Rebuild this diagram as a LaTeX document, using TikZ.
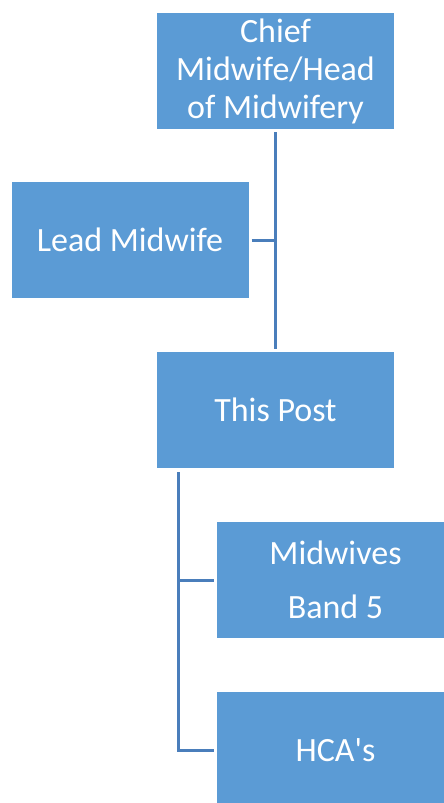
\documentclass[tikz,border=0pt]{standalone}
\usepackage{fontspec}
\setmainfont{Carlito}
\usepackage{xcolor}
\usetikzlibrary{calc}
\definecolor{boxblue}{HTML}{5B9BD5}
\definecolor{lineblue}{HTML}{4A7EBB}

\tikzset{
  postbox/.style={fill=boxblue, text=white, minimum width=237pt, minimum height=116pt,
    inner sep=0pt, align=center, font=\fontsize{34}{38}\selectfont},
  link/.style={draw=lineblue, line width=3pt}
}

\begin{document}
\begin{tikzpicture}[x=1pt,y=-1pt]
\useasboundingbox (0,0) rectangle (444,803);
\clip (0,0) rectangle (444,803);

\node[postbox] (chief) at (275.5,71) {Chief\\Midwife/Head\\of Midwifery};
\node[postbox] (lead) at (130,240) {Lead Midwife};
\node[postbox] (post) at (275.5,410) {This Post};
\node[postbox, font=\fontsize{34}{54}\selectfont] (band5) at (335.5,580) {Midwives\\Band 5};
\node[postbox] (hca) at (335.5,750) {HCA\textquotesingle s};

\coordinate (trunk) at ($(post.south west)+(22,4)$);

\draw[link] ($(chief.south)+(0,3)$) -- ($(post.north)+(0,-3)$);
\draw[link] ($(lead.east)+(3,0)$) -- (lead.east -| chief.south);
\draw[link] (trunk) |- ($(band5.west)+(-3,0)$);
\draw[link] (trunk) |- ($(hca.west)+(-3,0)$);
\end{tikzpicture}
\end{document}
